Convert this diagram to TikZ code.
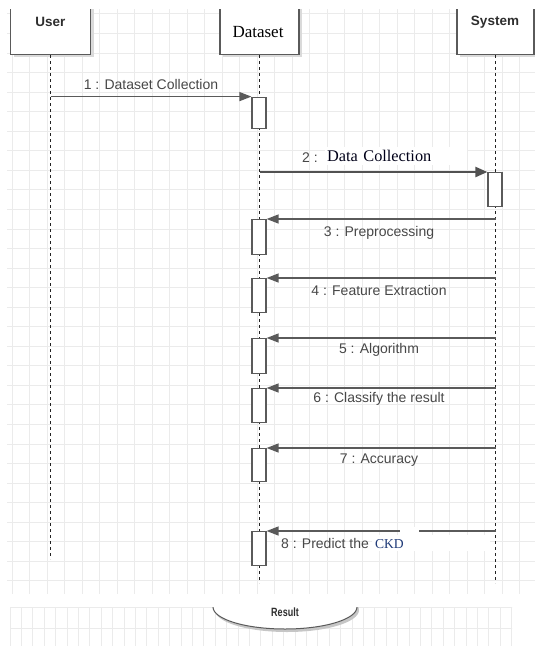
\documentclass[tikz,border=0pt]{standalone}
\usepackage{fontspec}
\usepackage{graphicx}
\setmainfont{Liberation Serif}
\setsansfont{Liberation Sans}
\usetikzlibrary{arrows.meta,shapes.geometric,shadows}
\definecolor{gridc}{HTML}{EBEBEB}
\definecolor{linec}{HTML}{5A5A5A}
\definecolor{txtc}{HTML}{474747}
\definecolor{headc}{HTML}{2E2E2E}
\definecolor{ckdc}{HTML}{1F3A78}
\definecolor{shadc}{HTML}{DADADA}
\definecolor{lifec}{HTML}{222222}
\begin{document}
\begin{tikzpicture}[x=1pt,y=-1pt,
  gridl/.style={draw=gridc, line width=0.8pt},
  headbox/.style={draw=linec, line width=1.2pt, fill=white, inner sep=0pt,
    minimum height=65pt, anchor=south,
    drop shadow={shadow xshift=3pt, shadow yshift=-3pt, fill=shadc, opacity=1}},
  headsans/.style={font=\sffamily\bfseries\fontsize{13.5}{15}\selectfont, text=headc, inner sep=0pt},
  headserif/.style={font=\fontsize{17}{19}\selectfont, text=black, inner sep=0pt},
  life/.style={draw=lifec, line width=1pt, dash pattern=on 3pt off 3pt},
  actbox/.style={draw=linec, line width=1.2pt, fill=white, minimum width=14pt, inner sep=0pt, anchor=north},
  msg/.style={draw=linec, line width=1.3pt, -{Triangle[length=12pt,width=9pt]}},
  msgthick/.style={draw=linec!90!black, line width=2.2pt, -{Triangle[length=12pt,width=10pt]}},
  msgtxt/.style={font=\sffamily\fontsize{14}{16}\selectfont, text=txtc, inner sep=0pt},
]
\useasboundingbox (0,0) rectangle (535,646);

% grids
\begin{scope}
\clip (7,8.5) rectangle (535,593);
\foreach \i in {0,...,30} \draw[gridl] ({12+17.5*\i},0) -- ({12+17.5*\i},600);
\foreach \j in {0,...,30} \draw[gridl] (0,{13.85+19.55*\j}) -- (540,{13.85+19.55*\j});
\end{scope}
\begin{scope}
\clip (10,607) rectangle (512,646);
\foreach \i in {0,...,44} \draw[gridl] ({10+11.4*\i},600) -- ({10+11.4*\i},650);
\foreach \y in {607.5,628.3} \draw[gridl] (0,\y) -- (540,\y);
\end{scope}

% header boxes
\node[headbox, minimum width=80pt] (u) at (50.5,55) {};
\node[headbox, minimum width=79pt] (d) at (259.5,55) {};
\node[headbox, minimum width=77pt] (s) at (495.5,55) {};
\fill[white] (-5,-40) rectangle (540,8.5);
\node[headsans] (ut) at (50.5,22) {User};
\node[headserif] (dt) at (258,32) {Dataset};
\node[headsans] (st) at (495,22) {System};

% lifelines
\coordinate (uend) at (50.5,559);
\coordinate (dend) at (259.5,583);
\coordinate (send) at (495.5,583);
\draw[life] (u.south) -- (uend);
\draw[life] (d.south) -- (dend);
\draw[life] (s.south) -- (send);

% activations
\node[actbox, minimum height=31.5pt] (a1) at (259,96.6) {};
\node[actbox, minimum height=34pt] (sa) at (495,172) {};
\node[actbox, minimum height=35pt] (a3) at (259,219) {};
\node[actbox, minimum height=34pt] (a4) at (259,278) {};
\node[actbox, minimum height=35pt] (a5) at (259,338) {};
\node[actbox, minimum height=34pt] (a6) at (259,388) {};
\node[actbox, minimum height=33pt] (a7) at (259,448) {};
\node[actbox, minimum height=34pt] (a8) at (259,531) {};

% message start points
\coordinate (m1) at (50.5,96.6);
\coordinate (m2) at (259.5,172);
\coordinate (m3) at (495.5,219);
\coordinate (m4) at (495.5,278);
\coordinate (m5) at (495.5,338);
\coordinate (m6) at (495.5,388);
\coordinate (m7) at (495.5,448);
\coordinate (m8) at (495.5,531);

% messages
\draw[msg] (m1) -- (a1.north west);
\node[msgtxt] (l1) at (151,84) {1 : Dataset Collection};

\node[msgtxt] (l2a) at (310,158) {2 :};
\node[anchor=west, fill=white, inner sep=0pt, minimum height=18pt, text width=142pt,
  font=\fontsize{16.3}{18}\selectfont, text=black!90!blue] (l2b) at (325,156) {\hspace{2pt}Data Collection};
\draw[msgthick] (m2) -- (sa.north west);

\draw[msg] (m3) -- (a3.north east);
\node[msgtxt] (l3) at (379,233) {3 : Preprocessing};
\draw[msg] (m4) -- (a4.north east);
\node[msgtxt] (l4) at (379,290) {4 : Feature Extraction};
\draw[msg] (m5) -- (a5.north east);
\node[msgtxt] (l5) at (379,350) {5 : Algorithm};
\draw[msg] (m6) -- (a6.north east);
\node[msgtxt] (l6) at (379,399) {6 : Classify the result};
\draw[msg] (m7) -- (a7.north east);
\node[msgtxt] (l7) at (379,460) {7 : Accuracy};
\draw[msg] (m8) -- (a8.north east);
\fill[white] (400,527) rectangle (419,535);
\fill[white] (372,535) rectangle (490,551);
\node[msgtxt, anchor=west] (l8) at (281,543) {8 : Predict the \,{\rmfamily\fontsize{13.6}{15}\selectfont\color{ckdc}CKD}};

% result ellipse
\begin{scope}
\clip (0,607.5) rectangle (535,646);
\fill[gray!45] (287,610) ellipse [x radius=72, y radius=22];
\node[draw=linec, fill=white, ellipse, minimum width=144pt, minimum height=44pt, inner sep=0pt, line width=1pt] (res) at (285,607) {};
\node[inner sep=0pt, font=\sffamily\bfseries\fontsize{12}{13}\selectfont, text=headc] (reslbl) at (285,612) {\scalebox{0.75}[1]{Result}};
\end{scope}
\end{tikzpicture}
\end{document}
